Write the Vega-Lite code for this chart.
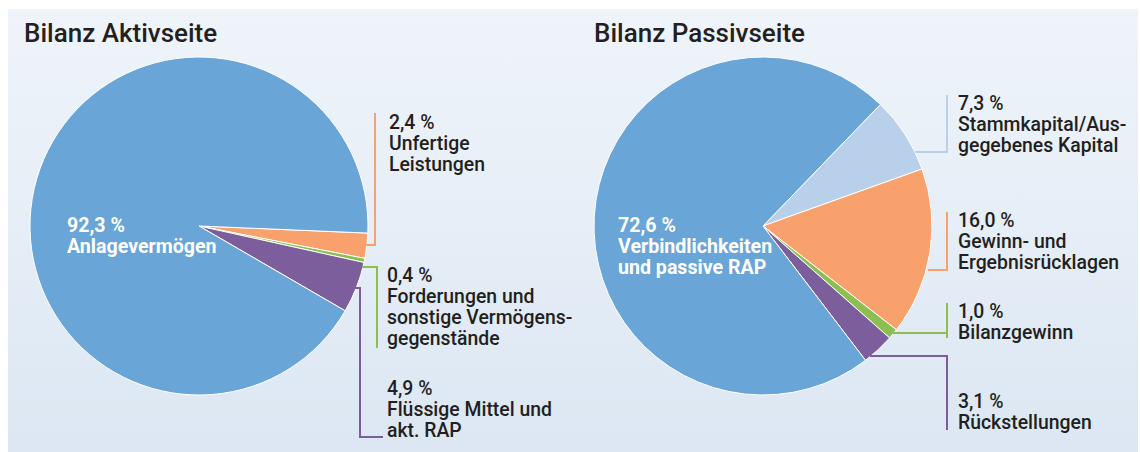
{
  "$schema": "https://vega.github.io/schema/vega-lite/v6.json",
  "width": 1140,
  "height": 452,
  "autosize": {"type": "fit", "contains": "padding"},
  "padding": 0,
  "background": "#ffffff",
  "config": {"view": {"stroke": null}, "font": "Roboto"},
  "datasets": {
    "aktiv": [
      {"k": 1, "posten": "Unfertige Leistungen", "farbe": "orange", "anteil": 2.4},
      {"k": 2, "posten": "Forderungen und sonstige Vermögensgegenstände", "farbe": "gruen", "anteil": 0.4},
      {"k": 3, "posten": "Flüssige Mittel und akt. RAP", "farbe": "lila", "anteil": 4.9},
      {"k": 4, "posten": "Anlagevermögen", "farbe": "blau", "anteil": 92.3}
    ],
    "passiv": [
      {"k": 1, "posten": "Stammkapital/Ausgegebenes Kapital", "farbe": "hellblau", "anteil": 7.3},
      {"k": 2, "posten": "Gewinn- und Ergebnisrücklagen", "farbe": "orange", "anteil": 16.0},
      {"k": 3, "posten": "Bilanzgewinn", "farbe": "gruen", "anteil": 1.0},
      {"k": 4, "posten": "Rückstellungen", "farbe": "lila", "anteil": 3.1},
      {"k": 5, "posten": "Verbindlichkeiten und passive RAP", "farbe": "blau", "anteil": 72.6}
    ],
    "linien": [
      {"farbe": "orange", "x": 375, "y": 113, "x2": 375, "y2": 245},
      {"farbe": "orange", "x": 366, "y": 245, "x2": 376, "y2": 245},
      {"farbe": "gruen", "x": 362, "y": 267, "x2": 378, "y2": 267},
      {"farbe": "gruen", "x": 377, "y": 267, "x2": 377, "y2": 348},
      {"farbe": "lila", "x": 355, "y": 288, "x2": 361, "y2": 288},
      {"farbe": "lila", "x": 360, "y": 288, "x2": 360, "y2": 437},
      {"farbe": "lila", "x": 359, "y": 437, "x2": 383, "y2": 437},
      {"farbe": "hellblau", "x": 915, "y": 152, "x2": 948, "y2": 152},
      {"farbe": "hellblau", "x": 947, "y": 95, "x2": 947, "y2": 152},
      {"farbe": "orange", "x": 928, "y": 270, "x2": 948, "y2": 270},
      {"farbe": "orange", "x": 947, "y": 212, "x2": 947, "y2": 270},
      {"farbe": "gruen", "x": 893, "y": 333, "x2": 947, "y2": 333},
      {"farbe": "gruen", "x": 947, "y": 303, "x2": 947, "y2": 338},
      {"farbe": "lila", "x": 870, "y": 356, "x2": 948, "y2": 356},
      {"farbe": "lila", "x": 947, "y": 356, "x2": 947, "y2": 430}
    ],
    "titel": [
      {"t": "Bilanz Aktivseite", "x": 24, "y": 42},
      {"t": "Bilanz Passivseite", "x": 594, "y": 42}
    ],
    "texte": [
      {"t": ["2,4 %", "Unfertige", "Leistungen"], "x": 389, "y": 129},
      {"t": ["0,4 %", "Forderungen und", "sonstige Vermögens-", "gegenstände"], "x": 387, "y": 282},
      {"t": ["4,9 %", "Flüssige Mittel und", "akt. RAP"], "x": 387, "y": 395},
      {"t": ["7,3 %", "Stammkapital/Aus-", "gegebenes Kapital"], "x": 958, "y": 110},
      {"t": ["16,0 %", "Gewinn- und", "Ergebnisrücklagen"], "x": 958, "y": 227},
      {"t": ["1,0 %", "Bilanzgewinn"], "x": 958, "y": 318},
      {"t": ["3,1 %", "Rückstellungen"], "x": 958, "y": 408}
    ],
    "innen": [
      {"t": ["92,3 %", "Anlagevermögen"], "x": 67, "y": 232},
      {"t": ["72,6 %", "Verbindlichkeiten", "und passive RAP"], "x": 618, "y": 232}
    ],
    "flaeche": [
      {"x": 8, "x2": 1138, "y": 9, "y2": 452}
    ]
  },
  "layer": [
    {
      "data": {"name": "flaeche"},
      "mark": {
        "type": "rect",
        "fill": {
          "gradient": "linear",
          "x1": 0, "y1": 0, "x2": 0, "y2": 1,
          "stops": [
            {"offset": 0, "color": "#eff4fa"},
            {"offset": 1, "color": "#dce7f3"}
          ]
        }
      },
      "encoding": {
        "x": {"field": "x", "type": "quantitative", "scale": {"domain": [0, 1140], "nice": false, "zero": false}, "axis": null},
        "x2": {"field": "x2"},
        "y": {"field": "y", "type": "quantitative", "scale": {"domain": [0, 452], "nice": false, "zero": false, "reverse": true}, "axis": null},
        "y2": {"field": "y2"}
      }
    },
    {
      "data": {"name": "aktiv"},
      "mark": {"type": "arc", "outerRadius": 169, "stroke": "#ffffff", "strokeWidth": 1},
      "encoding": {
        "theta": {"field": "anteil", "type": "quantitative", "stack": true, "scale": {"range": [1.6127, 7.8959]}},
        "order": {"field": "k", "type": "quantitative"},
        "color": {
          "field": "farbe", "type": "nominal",
          "scale": {"domain": ["blau", "hellblau", "orange", "gruen", "lila"], "range": ["#69a5d7", "#b9d0ea", "#f9a16c", "#8cbf50", "#7b5e9b"]},
          "legend": null
        },
        "x": {"datum": 199, "type": "quantitative"},
        "y": {"datum": 226, "type": "quantitative"}
      }
    },
    {
      "data": {"name": "passiv"},
      "mark": {"type": "arc", "outerRadius": 169, "stroke": "#ffffff", "strokeWidth": 1},
      "encoding": {
        "theta": {"field": "anteil", "type": "quantitative", "stack": true, "scale": {"range": [0.768, 7.0512]}},
        "order": {"field": "k", "type": "quantitative"},
        "color": {"field": "farbe", "type": "nominal", "legend": null},
        "x": {"datum": 763, "type": "quantitative"},
        "y": {"datum": 226, "type": "quantitative"}
      }
    },
    {
      "data": {"name": "linien"},
      "mark": {"type": "rule", "strokeWidth": 2},
      "encoding": {
        "x": {"field": "x", "type": "quantitative"},
        "x2": {"field": "x2"},
        "y": {"field": "y", "type": "quantitative"},
        "y2": {"field": "y2"},
        "color": {"field": "farbe", "type": "nominal", "legend": null}
      }
    },
    {
      "data": {"name": "titel"},
      "mark": {"type": "text", "align": "left", "baseline": "alphabetic", "fontSize": 26, "fontWeight": 500, "color": "#231f20"},
      "encoding": {
        "x": {"field": "x", "type": "quantitative"},
        "y": {"field": "y", "type": "quantitative"},
        "text": {"field": "t"}
      }
    },
    {
      "data": {"name": "texte"},
      "mark": {"type": "text", "align": "left", "baseline": "alphabetic", "fontSize": 19.4, "lineHeight": 21, "fontWeight": 500, "color": "#231f20"},
      "encoding": {
        "x": {"field": "x", "type": "quantitative"},
        "y": {"field": "y", "type": "quantitative"},
        "text": {"field": "t"}
      }
    },
    {
      "data": {"name": "innen"},
      "mark": {"type": "text", "align": "left", "baseline": "alphabetic", "fontSize": 19.6, "lineHeight": 21, "fontWeight": "bold", "color": "#ffffff"},
      "encoding": {
        "x": {"field": "x", "type": "quantitative"},
        "y": {"field": "y", "type": "quantitative"},
        "text": {"field": "t"}
      }
    }
  ],
  "resolve": {"scale": {"theta": "independent"}}
}
